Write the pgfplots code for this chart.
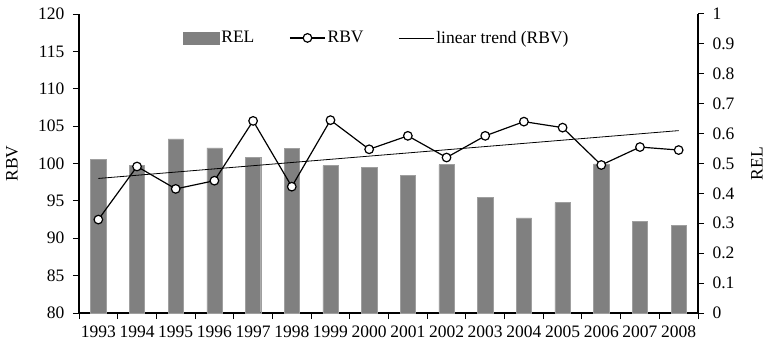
\documentclass[border=0pt]{standalone}
\usepackage{fontspec}
\setmainfont{Liberation Serif}
\usepackage{pgfplots}
\pgfplotsset{compat=1.18}
\definecolor{bargray}{RGB}{128,128,128}
\begin{document}
\begin{tikzpicture}
\pgfplotsset{
  common/.style={
    scale only axis, width=619bp, height=299bp,
    xmin=-0.5, xmax=15.5,
    clip=false,
    /pgf/number format/assume math mode=true,
    tick align=outside,
    major tick length=6bp,
    minor tick length=6bp,
    axis line style={-, line width=1.1pt},
    tick style={line width=1pt, black},
    font=\fontsize{17.5bp}{20bp}\selectfont,
  }
}
\begin{axis}[common, name=a,
  axis y line*=right, axis x line*=bottom,
  ymin=0, ymax=1,
  ytick={0,0.1,0.2,0.3,0.4,0.5,0.6,0.7,0.8,0.9,1},
  yticklabel style={/pgf/number format/fixed, xshift=5bp},
  xtick={0,...,15},
  xticklabels={1993,1994,1995,1996,1997,1998,1999,2000,2001,2002,2003,2004,2005,2006,2007,2008},
  major x tick style={draw=none},
  minor xtick={-0.5,0.5,...,15.5},
  xticklabel style={yshift=-3bp},
  ylabel={REL},
  ylabel style={at={(axis description cs:1.095,0.5)}, anchor=center},
]
\addplot[ybar, bar width=15.3bp, fill=bargray, draw=gray!75, line width=0.4pt] coordinates {
(0,0.513) (1,0.493) (2,0.582) (3,0.552) (4,0.520) (5,0.550) (6,0.493) (7,0.487)
(8,0.460) (9,0.496) (10,0.386) (11,0.318) (12,0.369) (13,0.499) (14,0.307) (15,0.292)};
\end{axis}
\begin{axis}[common,
  axis y line*=left, axis x line=none,
  ymin=80, ymax=120,
  ytick={80,85,...,120},
  yticklabel style={xshift=-5bp},
  ylabel={RBV},
  ylabel style={at={(axis description cs:-0.108,0.5)}, anchor=center},
  legend columns=3,
  legend style={draw=none, fill=none, at={(0.481,0.92)}, anchor=center,
    font=\fontsize{17.5bp}{20bp}\selectfont,
    /tikz/every even column/.append style={column sep=33bp}},
]
\addlegendimage{legend image code/.code={\fill[bargray] (0bp,-6bp) rectangle (36bp,6bp);}}
\addlegendentry{REL}
\addplot[black, line width=1.2pt, mark=*, mark size=4.3bp,
  mark options={fill=white, draw=black, line width=1.2pt},
  legend image code/.code={\draw[black, line width=1.2pt] (0bp,0bp) -- (35bp,0bp); \draw[black, line width=1.2pt, fill=white] (17.5bp,0bp) circle (4.3bp);}]
coordinates {
(0,92.5) (1,99.6) (2,96.6) (3,97.7) (4,105.7) (5,96.9) (6,105.8) (7,101.9)
(8,103.7) (9,100.8) (10,103.7) (11,105.6) (12,104.8) (13,99.8) (14,102.2) (15,101.8)};
\addlegendentry{RBV}
\addplot[black, line width=0.8pt, mark=none,
  legend image code/.code={\draw[black, line width=0.8pt] (0bp,0bp) -- (35bp,0bp);}]
coordinates {(0,98.0) (15,104.4)};
\addlegendentry{linear trend (RBV)}
\end{axis}
\pgfresetboundingbox
\useasboundingbox ([shift={(-79bp,-43bp)}]a.south west) rectangle ([shift={(75bp,14bp)}]a.north east);
\end{tikzpicture}
\end{document}
